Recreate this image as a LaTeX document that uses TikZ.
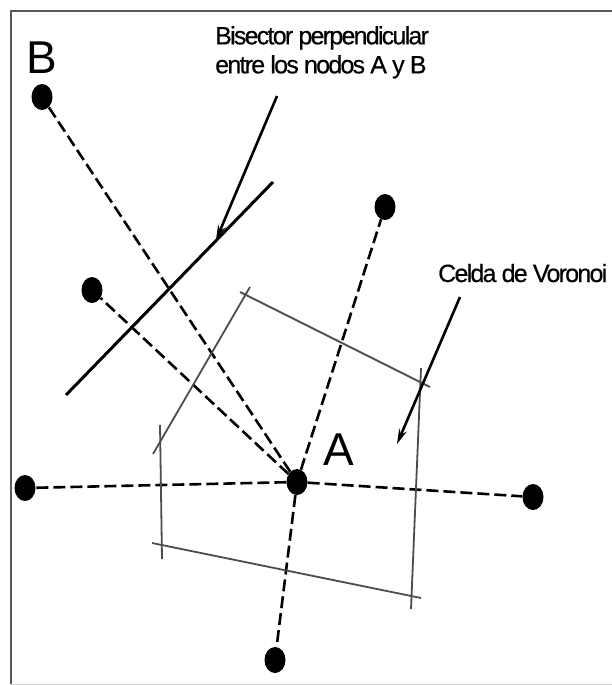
\documentclass[tikz,border=0pt]{standalone}
\usepackage{fontspec}
\setmainfont{Liberation Sans}
\newfontfamily\estrecha[LetterSpace=-7,FakeBold=0.4]{Liberation Sans}
\usetikzlibrary{arrows,arrows.meta,shapes,positioning}
\tikzstyle{nodo}=[ellipse,fill=black,inner sep=0pt,minimum width=21pt,minimum height=26pt]
\tikzstyle{enlace}=[line width=2.6pt,dash pattern=on 12pt off 5pt]
\tikzstyle{celda}=[line width=1.8pt,draw=black!70]
\tikzstyle{bisector}=[line width=3pt]
\tikzstyle{nota}=[font=\estrecha\fontsize{25}{29}\selectfont,inner sep=0pt,align=left]
\tikzstyle{etiqueta}=[font=\fontsize{46}{46}\selectfont,inner sep=0pt]
\tikzstyle{flecha}=[->,line width=2.6pt]

\begin{document}
\begin{tikzpicture}[>={Stealth[length=15pt,width=8pt]},x=1pt,y=-1pt]
    \useasboundingbox (0,0) rectangle (612,685);
    % marco
    \draw[black!65,line width=2pt] (612,11) -- (11,11) -- (11,684);
    \draw[black!20,line width=1pt] (11,684) -- (612,684);

    % nodos
    \node[nodo] (a) at (297,482) {};
    \node[nodo] (b) at (42,97) {};
    \node[nodo] (c) at (92,290) {};
    \node[nodo] (d) at (385,207) {};
    \node[nodo] (e) at (25,488) {};
    \node[nodo] (f) at (533,497) {};
    \node[nodo] (g) at (275,660) {};
    \node[etiqueta] (letrab) [above=10pt of b] {B};
    \node[etiqueta,anchor=base west] (letraa) at (323,465) {A};

    \draw[enlace] (a) -- (b);
    \draw[enlace] (a) -- (c);
    \draw[enlace] (a) -- (d);
    \draw[enlace] (a) -- (e);
    \draw[enlace] (a) -- (f);
    \draw[enlace] (a) -- (g);

    % celda de Voronoi
    \draw[celda] (240,292) -- (430,387);
    \draw[celda] (421,368) -- (411,609);
    \draw[celda] (152,543) -- (421,598);
    \draw[celda] (160,425) -- (162,559);
    \draw[celda] (250,287) -- (153,454);

    % bisector entre A y B
    \draw[bisector] (66,395) -- (273,182);

    % notas
    \node[nota,anchor=north west] (notabis) at (215,26) {Bisector perpendicular\\entre los nodos A y B};
    \node[nota,anchor=base west] (notacel) at (438,282) {Celda de Voronoi};
    \coordinate (inibis) at (277,96);
    \coordinate (finbis) at (216,240);
    \coordinate (inicel) at (460,297);
    \coordinate (fincel) at (397,444);
    \draw[flecha] (inibis) -- (finbis);
    \draw[flecha] (inicel) -- (fincel);
\end{tikzpicture}
\end{document}
